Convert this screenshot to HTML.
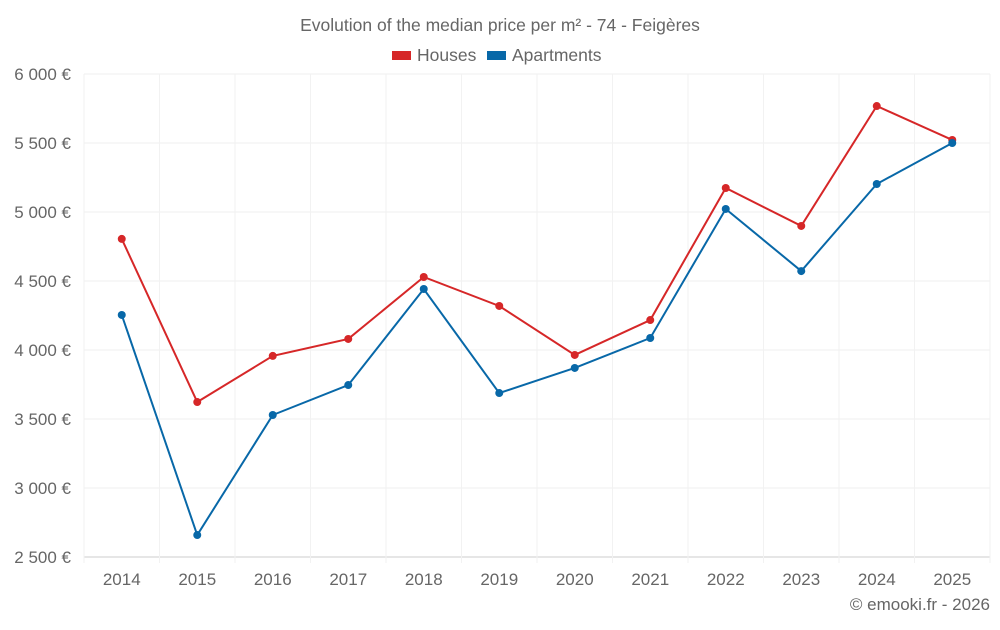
<!DOCTYPE html>
<html><head><meta charset="utf-8"><style>
body{margin:0;background:#fff;font-family:"Liberation Sans",sans-serif;}
svg text{font-family:"Liberation Sans",sans-serif;fill:#666;}
</style></head><body>
<svg id="chart" width="1000" height="625">
<text x="500" y="31" text-anchor="middle" font-size="17.5">Evolution of the median price per m² - 74 - Feigères</text>
<g>
<rect x="392" y="51" width="19" height="9" fill="#d62728"/>
<text x="417" y="61" font-size="17.5">Houses</text>
<rect x="487" y="51" width="19" height="9" fill="#0868a8"/>
<text x="512" y="61" font-size="17.5">Apartments</text>
</g>
<g id="grid"></g><g id="axes"></g><g id="series"></g>
<text x="990" y="610" text-anchor="end" font-size="17">© emooki.fr - 2026</text>
</svg>
<script>
const years=['2014','2015','2016','2017','2018','2019','2020','2021','2022','2023','2024','2025'];
const houses=[4805,3623,3957,4080,4529,4319,3964,4217,5174,4899,5768,5522];
const apartments=[4254,2659,3529,3746,4442,3688,3870,4087,5022,4572,5203,5500];
const yTicks=[2500,3000,3500,4000,4500,5000,5500,6000];
const yTickLabels=['2 500 €','3 000 €','3 500 €','4 000 €','4 500 €','5 000 €','5 500 €','6 000 €'];
const L=84,R=990,T=74,B=557,yMin=2500,yMax=6000;
const NS='http://www.w3.org/2000/svg';
const step=(R-L)/years.length;
function x(i){return L+step*(i+0.5);}
function y(v){return B-(v-yMin)/(yMax-yMin)*(B-T);}
function mk(tag,attrs,parent){const e=document.createElementNS(NS,tag);for(const k in attrs)e.setAttribute(k,attrs[k]);parent.appendChild(e);return e;}
const grid=document.getElementById('grid'),axes=document.getElementById('axes'),ser=document.getElementById('series');
yTicks.forEach((t,i)=>{
 const l=mk('line',{x1:L,x2:R,y1:y(t),y2:y(t),stroke:i==0?'#ccc':'#efefef'},grid);
 
 
 const tx=mk('text',{x:71,y:y(t)+6,'text-anchor':'end','font-size':'17'},axes);tx.textContent=yTickLabels[i];
 
 
});
for(let i=0;i<=years.length;i++){
 const l=mk('line',{x1:L+step*i,x2:L+step*i,y1:T,y2:B+6,stroke:'#f2f2f2'},grid);
 
 
}
years.forEach((yr,i)=>{
 const tx=mk('text',{x:x(i),y:585,'text-anchor':'middle','font-size':'17'},axes);tx.textContent=yr;
 
 
});
function draw(data,color,name){
 const p=mk('polyline',{points:data.map((v,i)=>x(i)+','+y(v)).join(' '),fill:'none',stroke:color,'stroke-width':2},ser);
 
 
 data.forEach((v,i)=>{
  const c=mk('circle',{cx:x(i),cy:y(v),r:4,fill:color},ser);
  
  
 });
}
draw(houses,'#d62728','houses');
draw(apartments,'#0868a8','apartments');
</script>
</body></html>
